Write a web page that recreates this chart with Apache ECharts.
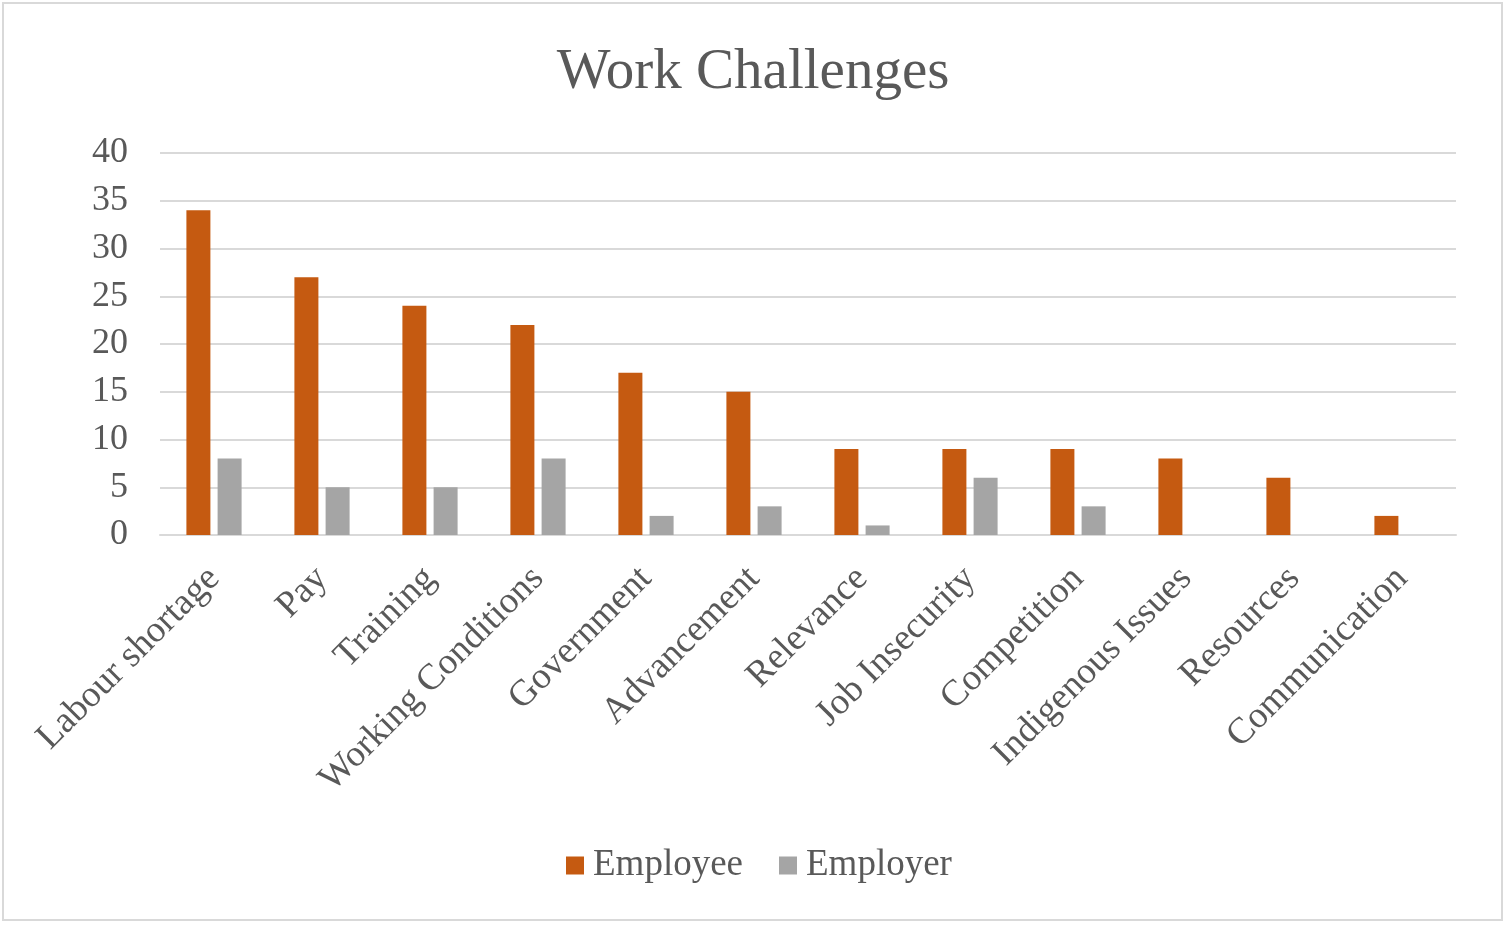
<!DOCTYPE html>
<html lang="en">
<head>
    <meta charset="UTF-8">
    <title>Work Challenges</title>
    <script src="https://cdn.jsdelivr.net/npm/echarts@6/dist/echarts.min.js"></script>
    <style>
        html, body { margin: 0; padding: 0; background: #fff; }
    </style>
</head>
<body>
    <div id="main" style="width: 1506px;height:926px;"></div>
</body>
    <script type="text/javascript">
        var categories = ['Labour shortage', 'Pay', 'Training', 'Working Conditions', 'Government',
            'Advancement', 'Relevance', 'Job Insecurity', 'Competition', 'Indigenous Issues',
            'Resources', 'Communication'];
        var employeeValues = [34, 27, 24, 22, 17, 15, 9, 9, 9, 8, 6, 2];
        var employerValues = [8, 5, 5, 8, 2, 3, 1, 6, 3, 0, 0, 0];
        var yTicks = [0, 40, 5];   // min, max, interval

        var serif = '"Liberation Serif", "Times New Roman", serif';
        var textColor = '#595959';

        var myChart = echarts.init(document.getElementById('main'));

        var option = {
            backgroundColor: '#fff',
            animation: false,
            title: {
                text: 'Work Challenges',
                left: 'center',
                top: 40,
                textStyle: {
                    fontFamily: serif,
                    fontSize: 57,
                    fontWeight: 'normal',
                    color: textColor
                }
            },
            graphic: [{
                type: 'rect',
                shape: { x: 3, y: 3, width: 1499, height: 917 },
                style: { fill: 'none', stroke: '#d9d9d9', lineWidth: 2 },
                silent: true
            }],
            legend: {
                bottom: 37,
                left: 561,
                itemWidth: 18,
                itemHeight: 18,
                itemGap: 36,
                icon: 'rect',
                textStyle: {
                    fontFamily: serif,
                    fontSize: 37,
                    color: textColor,
                    padding: [0, 0, 0, 4]
                },
                data: ['Employee', 'Employer']
            },
            grid: {
                left: 160,
                right: 50,
                top: 153,
                bottom: 391
            },
            xAxis: {
                type: 'category',
                data: categories,
                axisLine: { lineStyle: { color: '#d9d9d9', width: 2 } },
                axisTick: { show: false },
                axisLabel: {
                    interval: 0,
                    rotate: 45,
                    margin: 38,
                    fontFamily: serif,
                    fontSize: 37,
                    color: textColor
                }
            },
            yAxis: {
                type: 'value',
                min: yTicks[0],
                max: yTicks[1],
                interval: yTicks[2],
                axisLine: { show: false },
                axisTick: { show: false },
                splitLine: { lineStyle: { color: '#d9d9d9', width: 2 } },
                axisLabel: {
                    margin: 32,
                    fontFamily: serif,
                    fontSize: 36,
                    color: textColor
                }
            },
            series: [
                {
                    name: 'Employee',
                    type: 'bar',
                    data: employeeValues,
                    barWidth: 24,
                    barGap: '30%',
                    itemStyle: { color: '#c55a11' }
                },
                {
                    name: 'Employer',
                    type: 'bar',
                    data: employerValues,
                    barWidth: 24,
                    barGap: '30%',
                    itemStyle: { color: '#a5a5a5' }
                }
            ]
        };

        myChart.setOption(option);
    </script>
</html>
